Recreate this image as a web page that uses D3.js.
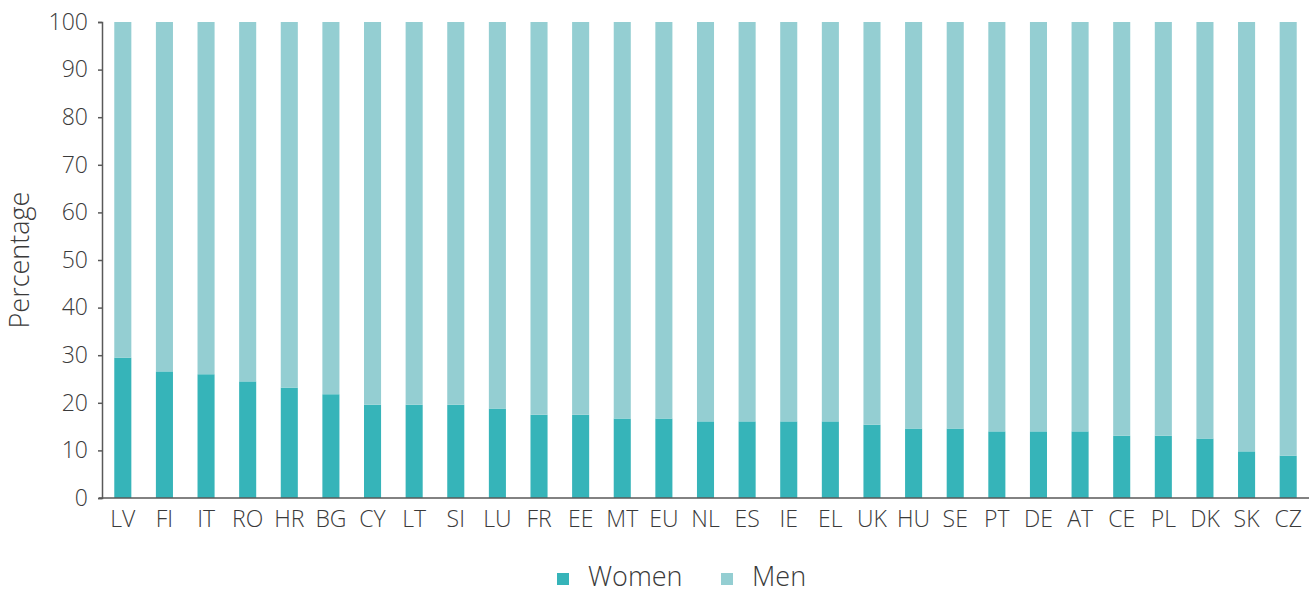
<!DOCTYPE html>
<html>
<head>
<meta charset="utf-8">
<script src="https://cdn.jsdelivr.net/npm/d3@7"></script>
<style>
  html, body { margin: 0; padding: 0; background: #fff; }
  svg { display: block; font-family: "Open Sans", sans-serif; }
</style>
</head>
<body>
<svg id="chart" width="1310" height="593"></svg>
<script>
const categories = ["LV","FI","IT","RO","HR","BG","CY","LT","SI","LU","FR","EE","MT","EU","NL","ES","IE","EL","UK","HU","SE","PT","DE","AT","CE","PL","DK","SK","CZ"];
const women = [29.5,26.6,26.0,24.5,23.2,21.8,19.6,19.6,19.6,18.8,17.5,17.5,16.7,16.7,16.1,16.1,16.1,16.1,15.4,14.6,14.6,14.0,14.0,14.0,13.1,13.1,12.5,9.8,8.9];
const men = [70.5,73.4,74.0,75.5,76.8,78.2,80.4,80.4,80.4,81.2,82.5,82.5,83.3,83.3,83.9,83.9,83.9,83.9,84.6,85.4,85.4,86.0,86.0,86.0,86.9,86.9,87.5,90.2,91.1];
const yTicks = [0,10,20,30,40,50,60,70,80,90,100];
const seriesNames = ["Women","Men"];
const seriesColors = ["#36b4b9","#94ced2"];
const yTitle = "Percentage";

const svg = d3.select("#chart");
const mLeft = 102, mRight = 1309, mTop = 22, mBottom = 498;

const x = d3.scaleBand().domain(categories).range([mLeft, mRight]).paddingInner(0.59).paddingOuter(0.295);
const y = d3.scaleLinear().domain([0, 100]).range([mBottom, mTop]);

const rows = categories.map((c, i) => ({cat: c, Women: women[i], Men: men[i]}));
const stacked = d3.stack().keys(seriesNames)(rows);
const color = d3.scaleOrdinal().domain(seriesNames).range(seriesColors);

svg.append("g").selectAll("g").data(stacked).join("g")
  .attr("fill", d => color(d.key))
  .selectAll("rect").data(d => d).join("rect")
  .attr("x", d => x(d.data.cat))
  .attr("width", x.bandwidth())
  .attr("y", d => y(d[1]))
  .attr("height", d => y(d[0]) - y(d[1]));

// Y axis
const yAxis = svg.append("g").attr("transform", `translate(${mLeft},0)`)
  .call(d3.axisLeft(y).tickValues(yTicks).tickSize(4).tickSizeOuter(4).tickPadding(10));
yAxis.select(".domain").attr("stroke", "#595959").attr("stroke-width", 1.5);
yAxis.selectAll(".tick line").attr("stroke", "#595959").attr("stroke-width", 1.5);
yAxis.selectAll(".tick text").attr("fill", "#3a3a3a").style("font-size", "23px").style("font-weight", 300).style("font-family", "'Open Sans', sans-serif");

// X axis
const xAxis = svg.append("g").attr("transform", `translate(0,${mBottom})`)
  .call(d3.axisBottom(x).tickSize(0).tickPadding(13));
xAxis.select(".domain").attr("stroke", "#595959").attr("stroke-width", 1.5)
  .attr("d", `M${mLeft - 3},0H${mRight}`);
xAxis.selectAll(".tick text").attr("fill", "#3a3a3a").style("font-size", "23px").style("font-weight", 300).style("font-family", "'Open Sans', sans-serif");

// Y title
svg.append("text")
  .attr("transform", `translate(29,${(mTop + mBottom) / 2}) rotate(-90)`)
  .attr("text-anchor", "middle")
  .attr("fill", "#3a3a3a")
  .style("font-size", "27px").style("font-weight", 300)
  .text(yTitle);

// Legend
const legendX = [557, 721];
const lg = svg.append("g");
seriesNames.forEach((s, i) => {
  lg.append("rect").attr("x", legendX[i]).attr("y", 573).attr("width", 12).attr("height", 12).attr("fill", seriesColors[i]);
  lg.append("text").attr("x", legendX[i] + 31).attr("y", 586)
    .attr("fill", "#3a3a3a").style("font-size", "27px").style("font-weight", 300)
    .text(s);
});
</script>
</body>
</html>
